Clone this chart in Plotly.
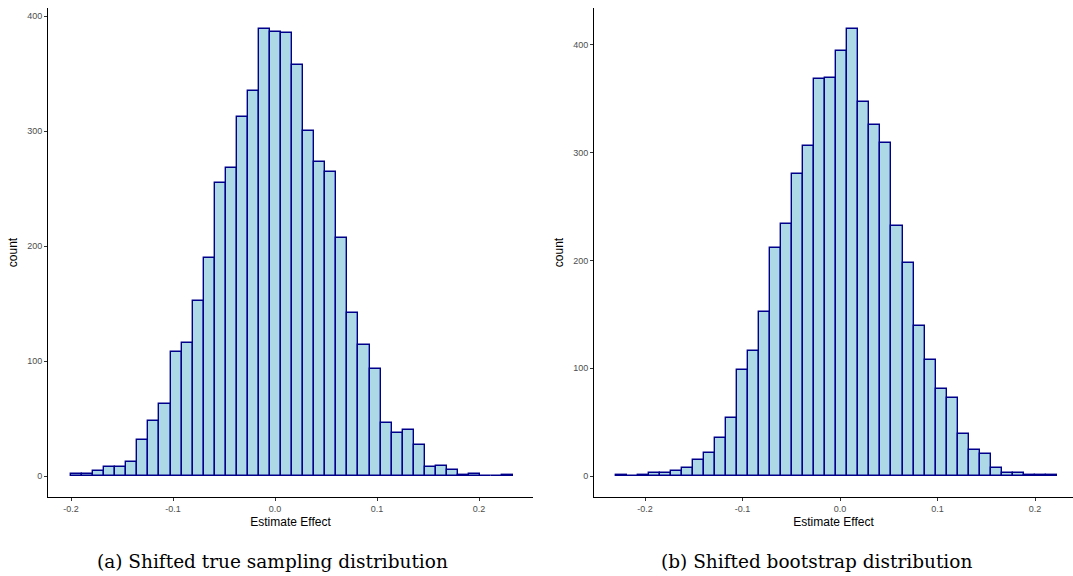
import plotly.graph_objects as go

# ---- data ----
left_bin_start = -0.2
left_bin_width = 0.01084
left_counts = [2, 2, 4, 8, 8, 12, 31, 48, 63, 108,
               116, 152, 190, 255, 268, 312, 335, 389, 386, 385,
               357, 300, 273, 264, 207, 142, 114, 93, 46, 37,
               40, 27, 8, 9, 5, 1, 2, 0, 0, 1]

right_bin_start = -0.2302
right_bin_width = 0.01132
right_counts = [1, 0, 1, 3, 3, 5, 7, 15, 21, 35,
                54, 98, 116, 152, 212, 234, 280, 306, 368, 369,
                394, 415, 347, 326, 309, 232, 198, 139, 108, 81,
                72, 39, 24, 20, 7, 3, 3, 1, 1, 1]

x_tickvals = [-0.2, -0.1, 0.0, 0.1, 0.2]
x_ticktext = ["-0.2", "-0.1", "0.0", "0.1", "0.2"]
y_tickvals = [0, 100, 200, 300, 400]
y_ticktext = ["0", "100", "200", "300", "400"]

x_title = "Estimate Effect"
y_title = "count"
captions = ["(a) Shifted true sampling distribution", "(b) Shifted bootstrap distribution"]

W, H = 1073, 576
FILL = "#ADD8E6"
EDGE = "#00008B"


def centers(start, width, n):
    return [start + (i + 0.5) * width for i in range(n)]


fig = go.Figure()
fig.add_trace(go.Bar(
    x=centers(left_bin_start, left_bin_width, len(left_counts)), y=left_counts,
    width=left_bin_width, marker=dict(color=FILL, line=dict(color=EDGE, width=1.4)),
    xaxis="x", yaxis="y", showlegend=False))
fig.add_trace(go.Bar(
    x=centers(right_bin_start, right_bin_width, len(right_counts)), y=right_counts,
    width=right_bin_width, marker=dict(color=FILL, line=dict(color=EDGE, width=1.4)),
    xaxis="x2", yaxis="y2", showlegend=False))

ydom = [(H - 497) / H, (H - 8) / H]
axis_common = dict(showgrid=False, zeroline=False, showline=True, linecolor="black",
                   linewidth=1, ticks="outside", ticklen=3, tickcolor="#333333",
                   tickfont=dict(family="Liberation Sans, Arial, sans-serif", size=9, color="#4D4D4D"))
title_font = dict(family="Liberation Sans, Arial, sans-serif", size=12, color="black")

fig.update_layout(
    width=W, height=H, margin=dict(l=0, r=0, t=0, b=0),
    plot_bgcolor="white", paper_bgcolor="white", bargap=0,
    xaxis=dict(domain=[48 / W, 533 / W], range=[-0.22255, 0.25294], anchor="y",
               tickvals=x_tickvals, ticktext=x_ticktext,
               title=dict(text=x_title, font=title_font, standoff=4), **axis_common),
    yaxis=dict(domain=ydom, range=[-18.26, 406.96], anchor="x",
               tickvals=y_tickvals, ticktext=y_ticktext,
               title=dict(text=y_title, font=title_font, standoff=6), **axis_common),
    xaxis2=dict(domain=[594 / W, 1.0], range=[-0.25231, 0.23897], anchor="y2",
                tickvals=x_tickvals, ticktext=x_ticktext,
                title=dict(text=x_title, font=title_font, standoff=4), **axis_common),
    yaxis2=dict(domain=ydom, range=[-19.49, 434.3], anchor="x2",
                tickvals=y_tickvals, ticktext=y_ticktext,
                title=dict(text=y_title, font=title_font, standoff=6), **axis_common),
)

cap_font = dict(family="DejaVu Serif, serif", size=18.5, color="black")
for txt, cx in zip(captions, [272, 816]):
    fig.add_annotation(text=txt, x=cx / W, y=(H - 561) / H, xref="paper", yref="paper",
                       showarrow=False, font=cap_font, xanchor="center", yanchor="middle")

fig.write_html("out.html")
